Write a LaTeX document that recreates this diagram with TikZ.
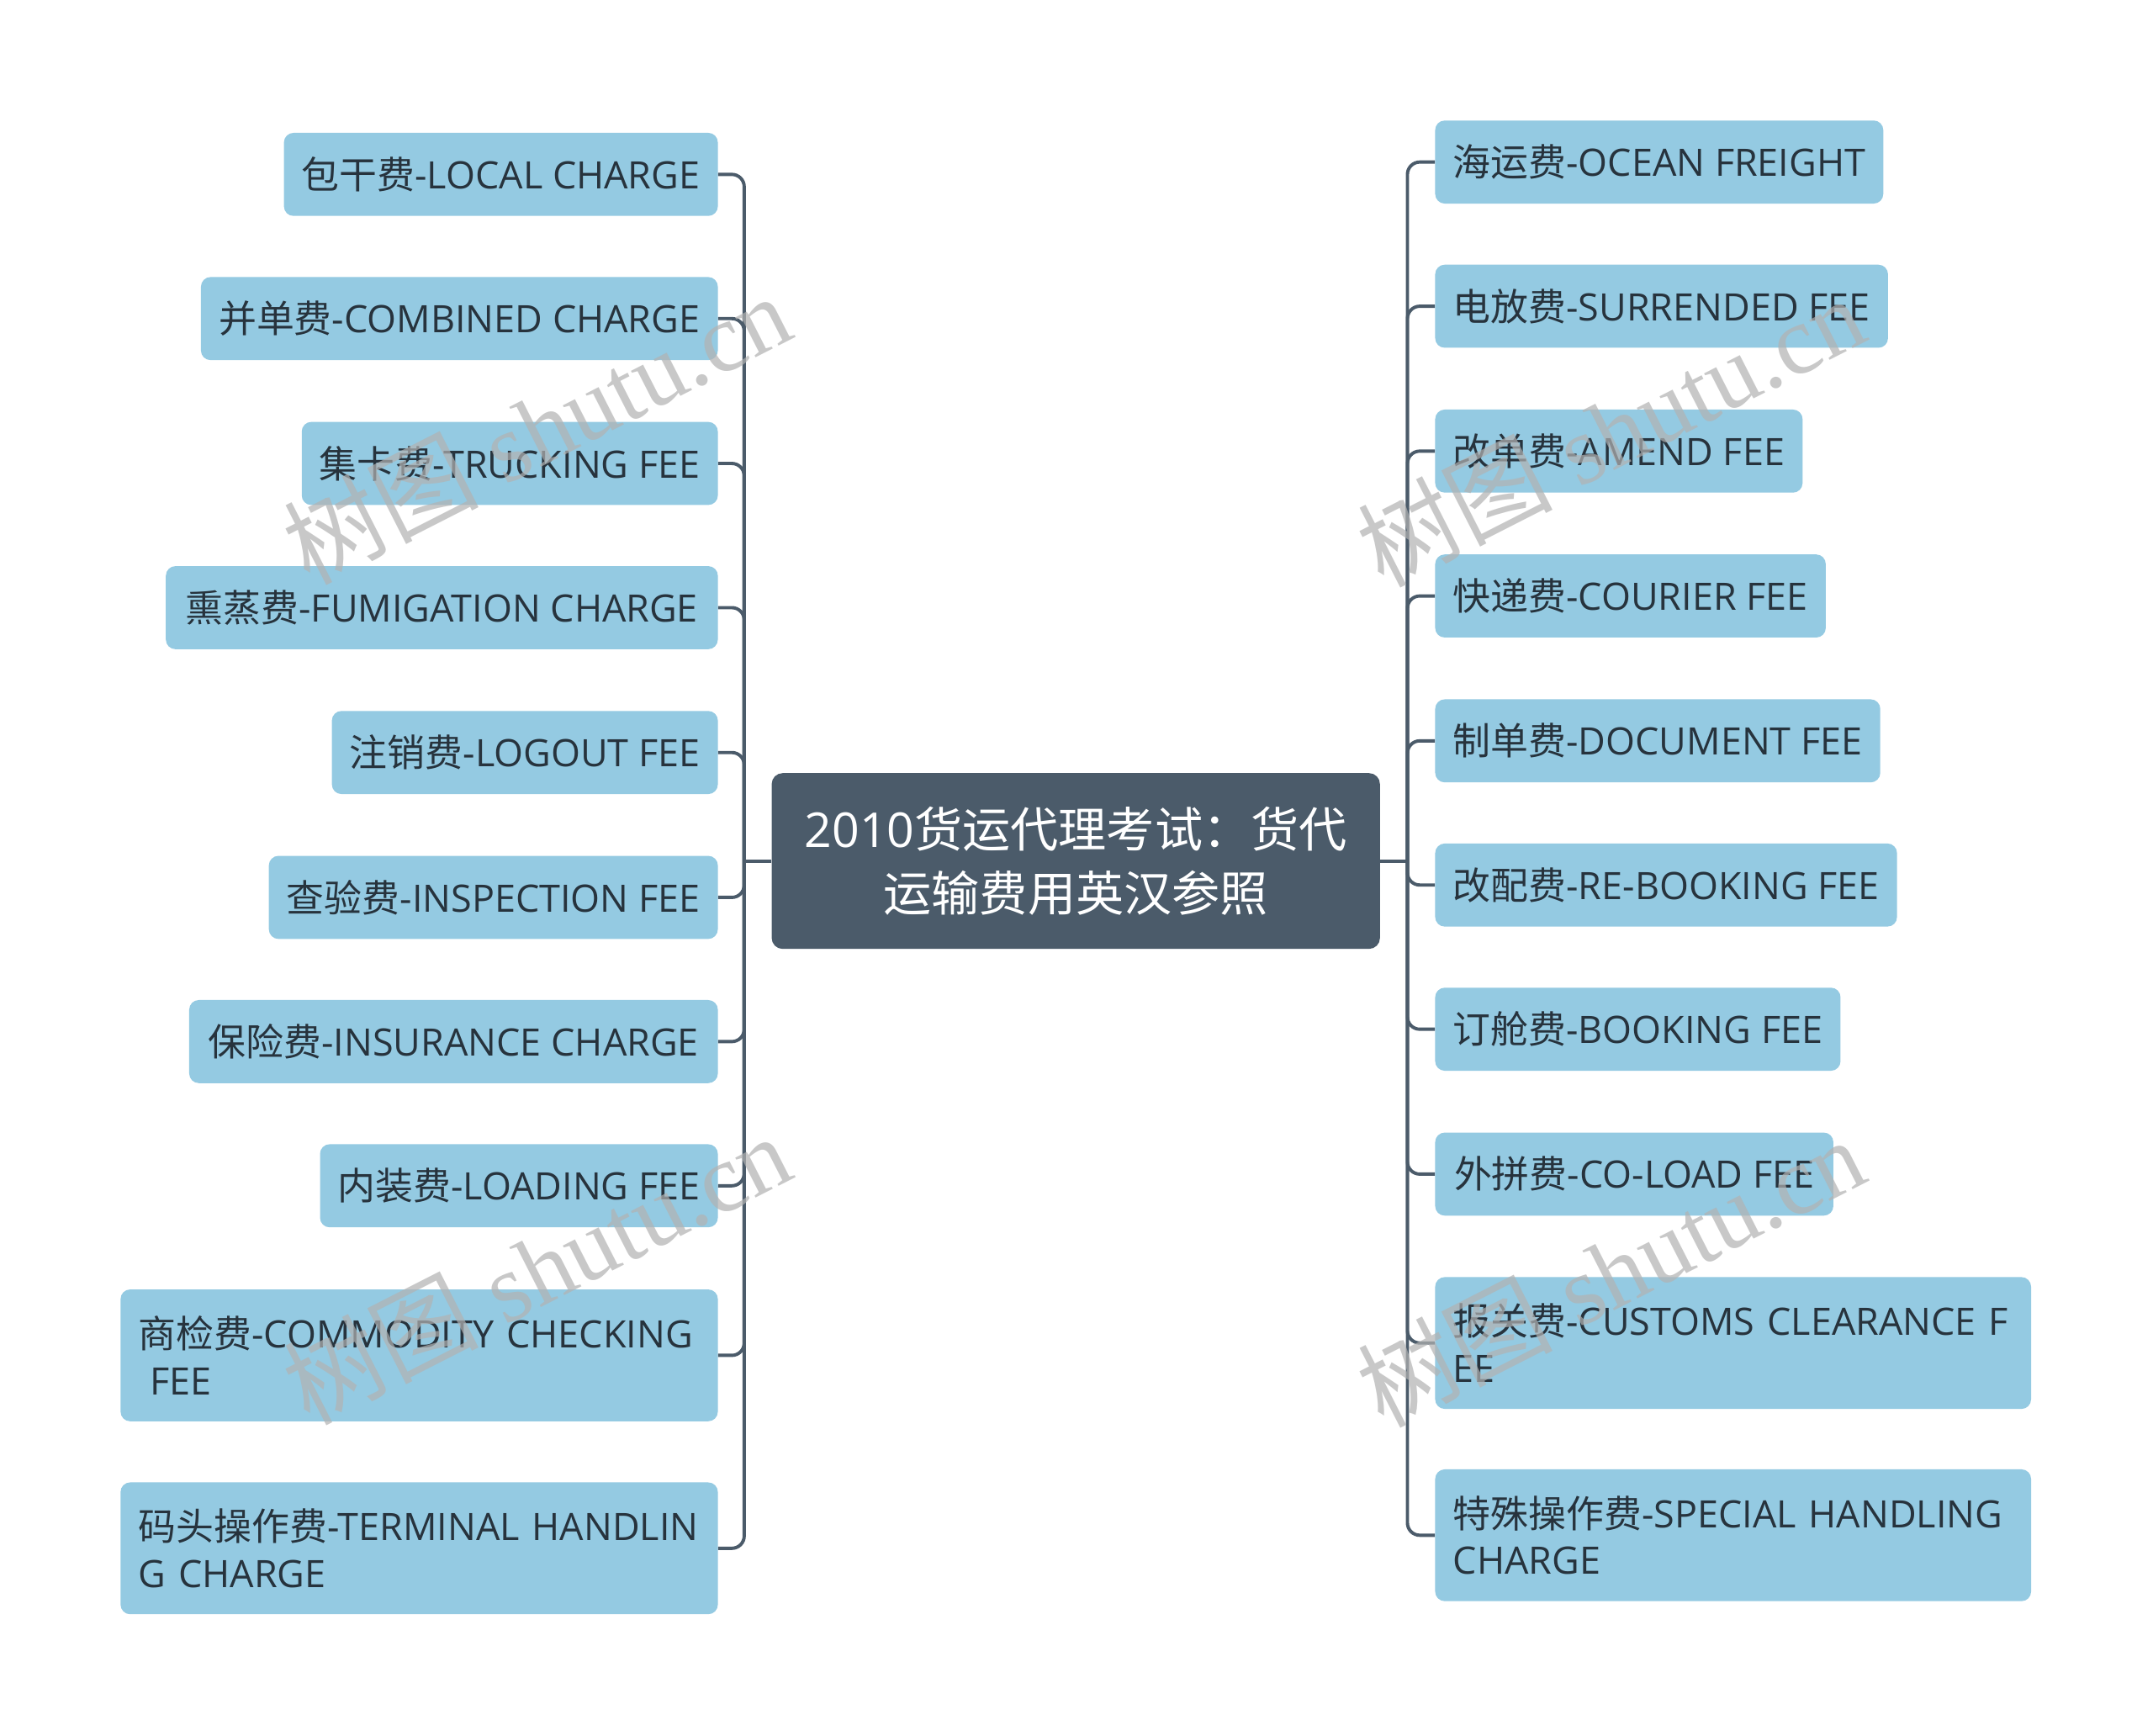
\documentclass[tikz,border=0pt]{standalone}
\usepackage{fontspec}
\setmainfont{Open Sans}
\newfontfamily\cjk{Noto Sans CJK SC}
\newfontfamily\wmserif{Liberation Serif}
\definecolor{leafc}{HTML}{94CAE2}
\definecolor{rootc}{HTML}{4B5B6A}
\definecolor{linec}{HTML}{4B5B6A}
\definecolor{txtc}{HTML}{27333D}
\tikzset{
  leafbox/.style={fill=leafc, rounded corners=7pt, inner xsep=13pt, inner ysep=0pt,
    text=txtc, font=\fontsize{27.5pt}{34pt}\selectfont, minimum height=60.5pt},
  lnode/.style={leafbox, anchor=east},
  rnode/.style={leafbox, anchor=west},
  twoline/.style={minimum height=96pt, align=left, text width=#1},
  conn/.style={draw=linec, line width=2.4pt, rounded corners=9pt},
  wm/.style={rotate=27, anchor=base west, text=black!30, opacity=0.7,
    font=\fontsize{71pt}{71pt}\selectfont}
}
\begin{document}
\begin{tikzpicture}[x=1pt, y=-1pt]
\useasboundingbox[fill=white] (0,0) rectangle (1568,1264);

% root
\node[fill=rootc, rounded corners=8pt, minimum width=443pt, minimum height=128pt,
  text=white, align=center, inner sep=0pt, font=\fontsize{35pt}{47pt}\selectfont]
  (root) at (783.5,627) {2010{\cjk 货运代理考试：货代}\\{\cjk 运输费用英汉参照}};

% left nodes
\node[lnode, minimum width=316pt] (l1) at (523,127) {{\cjk 包干费}-LOCAL CHARGE};
\node[lnode, minimum width=376pt] (l2) at (523,232) {{\cjk 并单费}-COMBINED CHARGE};
\node[lnode, minimum width=302pt] (l3) at (523,337.5) {{\cjk 集卡费}-TRUCKING FEE};
\node[lnode, minimum width=402pt] (l4) at (523,442.5) {{\cjk 熏蒸费}-FUMIGATION CHARGE};
\node[lnode, minimum width=278pt] (l5) at (523,548) {{\cjk 注销费}-LOGOUT FEE};
\node[lnode, minimum width=325pt] (l6) at (523,653.5) {{\cjk 查验费}-INSPECTION FEE};
\node[lnode, minimum width=385pt] (l7) at (523,758.5) {{\cjk 保险费}-INSURANCE CHARGE};
\node[lnode, minimum width=289pt] (l8) at (523,863.5) {{\cjk 内装费}-LOADING FEE};
\node[lnode, twoline=409pt] (l9) at (523,987) {\mbox{{\cjk 商检费}-COMMODITY CHECKING}\\\mbox{\hspace*{0.3em}FEE}};
\node[lnode, twoline=409pt] (l10) at (523,1127.5) {\mbox{{\cjk 码头操作费}-TERMINAL HANDLIN}\\\mbox{G CHARGE}};

% right nodes
\node[rnode, minimum width=325pt] (r1) at (1045,118) {{\cjk 海运费}-OCEAN FREIGHT};
\node[rnode, minimum width=325pt] (r2) at (1045,223) {{\cjk 电放费}-SURRENDED FEE};
\node[rnode, minimum width=266pt] (r3) at (1045,328.5) {{\cjk 改单费}-AMEND FEE};
\node[rnode, minimum width=281pt] (r4) at (1045,434) {{\cjk 快递费}-COURIER FEE};
\node[rnode, minimum width=321pt] (r5) at (1045,539.5) {{\cjk 制单费}-DOCUMENT FEE};
\node[rnode, minimum width=334pt] (r6) at (1045,644.5) {{\cjk 改配费}-RE-BOOKING FEE};
\node[rnode, minimum width=291pt] (r7) at (1045,749.5) {{\cjk 订舱费}-BOOKING FEE};
\node[rnode, minimum width=290pt] (r8) at (1045,855) {{\cjk 外拼费}-CO-LOAD FEE};
\node[rnode, twoline=408pt] (r9) at (1045,978) {\mbox{{\cjk 报关费}-CUSTOMS CLEARANCE F}\\\mbox{EE}};
\node[rnode, twoline=408pt] (r10) at (1045,1118) {\mbox{{\cjk 特殊操作费}-SPECIAL HANDLING}\\\mbox{CHARGE}};

% connectors
\coordinate (lj) at (542,627);
\coordinate (rj) at (1025,627);
\draw[conn] (root.west) -- (lj);
\draw[conn] (root.east) -- (rj);
\foreach \i in {1,...,10} {
  \draw[conn] (lj) |- (l\i.east);
  \draw[conn] (rj) |- (r\i.west);
}

% watermarks
\node[wm] (w1) at (222,428) {{\cjk 树图} {\wmserif shutu.cn}};
\node[wm] (w2) at (222,1040) {{\cjk 树图} {\wmserif shutu.cn}};
\node[wm] (w3) at (1004,430) {{\cjk 树图} {\wmserif shutu.cn}};
\node[wm] (w4) at (1004,1042) {{\cjk 树图} {\wmserif shutu.cn}};
\end{tikzpicture}
\end{document}
